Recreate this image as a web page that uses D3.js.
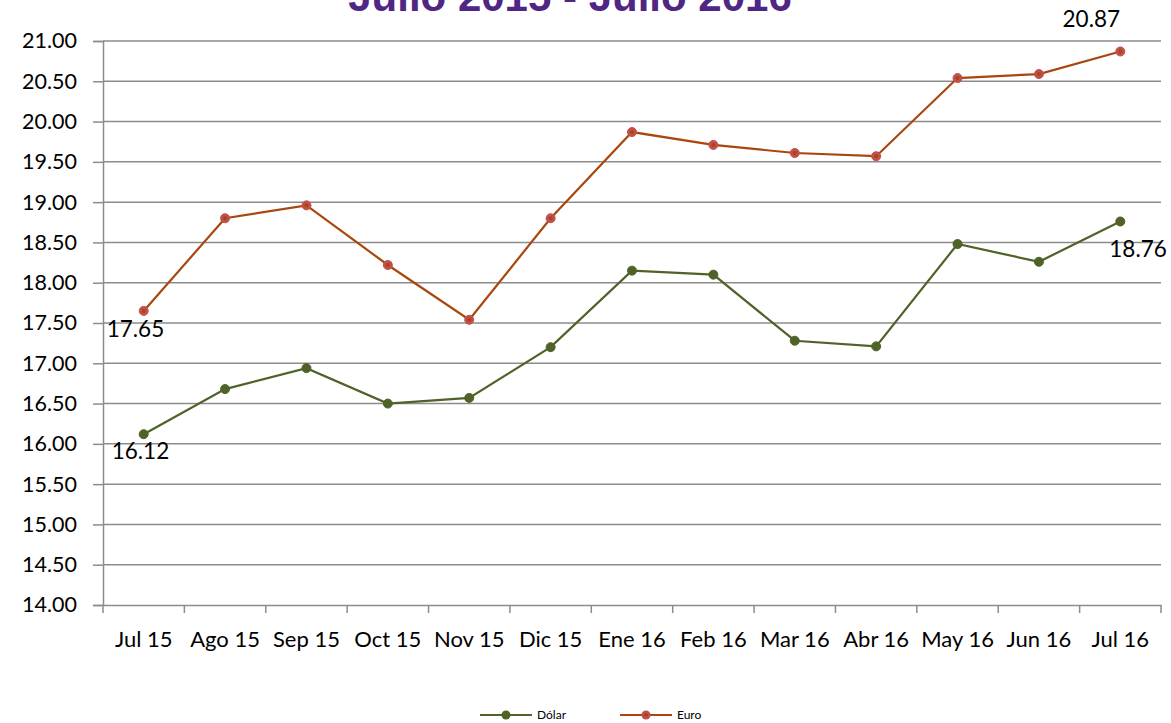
<!DOCTYPE html>
<html><head><meta charset="utf-8">
<script src="https://cdn.jsdelivr.net/npm/d3@7"></script>
<style>body{margin:0;background:#fff}svg{display:block}</style>
</head><body>
<script>
const categories = ["Jul 15","Ago 15","Sep 15","Oct 15","Nov 15","Dic 15","Ene 16","Feb 16","Mar 16","Abr 16","May 16","Jun 16","Jul 16"];
const dolar = [16.12,16.68,16.94,16.50,16.57,17.20,18.15,18.10,17.28,17.21,18.48,18.26,18.76];
const euro = [17.65,18.80,18.96,18.22,17.54,18.80,19.87,19.71,19.61,19.57,20.54,20.59,20.87];
const yTicks = [14,14.5,15,15.5,16,16.5,17,17.5,18,18.5,19,19.5,20,20.5,21];
const title = "Julio 2015 - Julio 2016";

const W=1171,H=723;
const svg=d3.select("body").append("svg").attr("width",W).attr("height",H);
const L=103,R=1161,T=41,B=605;
const x=d3.scaleBand().domain(categories).range([L,R]);
const y=d3.scaleLinear().domain([14,21]).range([B,T]);
const font="Lato, 'Open Sans', sans-serif";

svg.append("text").attr("x",570).attr("y",11).attr("text-anchor","middle")
  .attr("font-family","'Liberation Sans', Arial, sans-serif").attr("font-weight","bold")
  .attr("font-size",42).attr("fill","#4F2683").text(title);

// gridlines
svg.append("g").selectAll("line").data(yTicks.filter(d=>d>14)).join("line")
  .attr("x1",L).attr("x2",R).attr("y1",d=>y(d)).attr("y2",d=>y(d))
  .attr("stroke","#8c8c8c").attr("stroke-width",1.5);

// y axis
const ya=svg.append("g").attr("transform",`translate(${L},0)`)
  .call(d3.axisLeft(y).tickValues(yTicks).tickFormat(d3.format(".2f")).tickSize(10).tickPadding(16));
ya.select(".domain").attr("stroke","#8c8c8c").attr("stroke-width",1.5);
ya.selectAll(".tick line").attr("stroke","#8c8c8c").attr("stroke-width",1.5);
ya.selectAll("text").attr("font-family",font).attr("font-size",21.5).attr("fill","#000");

// x axis
const xa=svg.append("g").attr("transform",`translate(0,${B})`)
  .call(d3.axisBottom(x).tickSize(0).tickPadding(26));
xa.select(".domain").attr("stroke","#8c8c8c").attr("stroke-width",1.5);
xa.selectAll("text").attr("font-family",font).attr("font-size",22).attr("fill","#000");
const bounds=categories.map((c,i)=>x(c)).concat([R]);
svg.append("g").selectAll("line").data(bounds).join("line")
  .attr("x1",d=>d).attr("x2",d=>d).attr("y1",B).attr("y2",B+8)
  .attr("stroke","#8c8c8c").attr("stroke-width",1.5);

const cx=(d,i)=>x(categories[i])+x.bandwidth()/2;
const series=[{vals:dolar,line:"#4F6228",mark:"#4F6228",name:"Dólar"},{vals:euro,line:"#A9470E",mark:"#C0504D",name:"Euro"}];
series.forEach(s=>{
  svg.append("path").datum(s.vals)
    .attr("d",d3.line().x(cx).y(d=>y(d)))
    .attr("fill","none").attr("stroke",s.line).attr("stroke-width",2.2);
  svg.append("g").selectAll("circle").data(s.vals).join("circle")
    .attr("cx",cx).attr("cy",d=>y(d)).attr("r",4.5).attr("fill",s.mark).attr("stroke",s.mark);
});
svg.append("g").selectAll("circle").data(euro).join("circle")
  .attr("cx",cx).attr("cy",d=>y(d)).attr("r",2).attr("fill","#A9470E");

// data labels
const lab=(i,v,dx,dy,anchor)=>svg.append("text").attr("x",cx(v,i)+dx).attr("y",y(v)+dy)
  .attr("text-anchor",anchor).attr("font-family",font).attr("font-size",22.5).attr("fill","#000").text(v.toFixed(2));
lab(0,euro[0],-37,26,"start");
lab(0,dolar[0],-32,25,"start");
lab(12,euro[12],-29,-24,"middle");
lab(12,dolar[12],-11,36,"start");

// legend
const lg=svg.append("g");
[[480,"Dólar",series[0]],[620,"Euro",series[1]]].forEach(([lx,name,s])=>{
  lg.append("line").attr("x1",lx).attr("x2",lx+52).attr("y1",715).attr("y2",715).attr("stroke",s.line).attr("stroke-width",2.2);
  lg.append("circle").attr("cx",lx+26).attr("cy",715).attr("r",4.5).attr("fill",s.mark);
  if(name==="Euro") lg.append("circle").attr("cx",lx+26).attr("cy",715).attr("r",2).attr("fill",s.line);
  lg.append("text").attr("x",lx+57).attr("y",719).attr("font-family",font).attr("font-size",12).attr("fill","#000").text(name);
});
</script>
</body></html>
